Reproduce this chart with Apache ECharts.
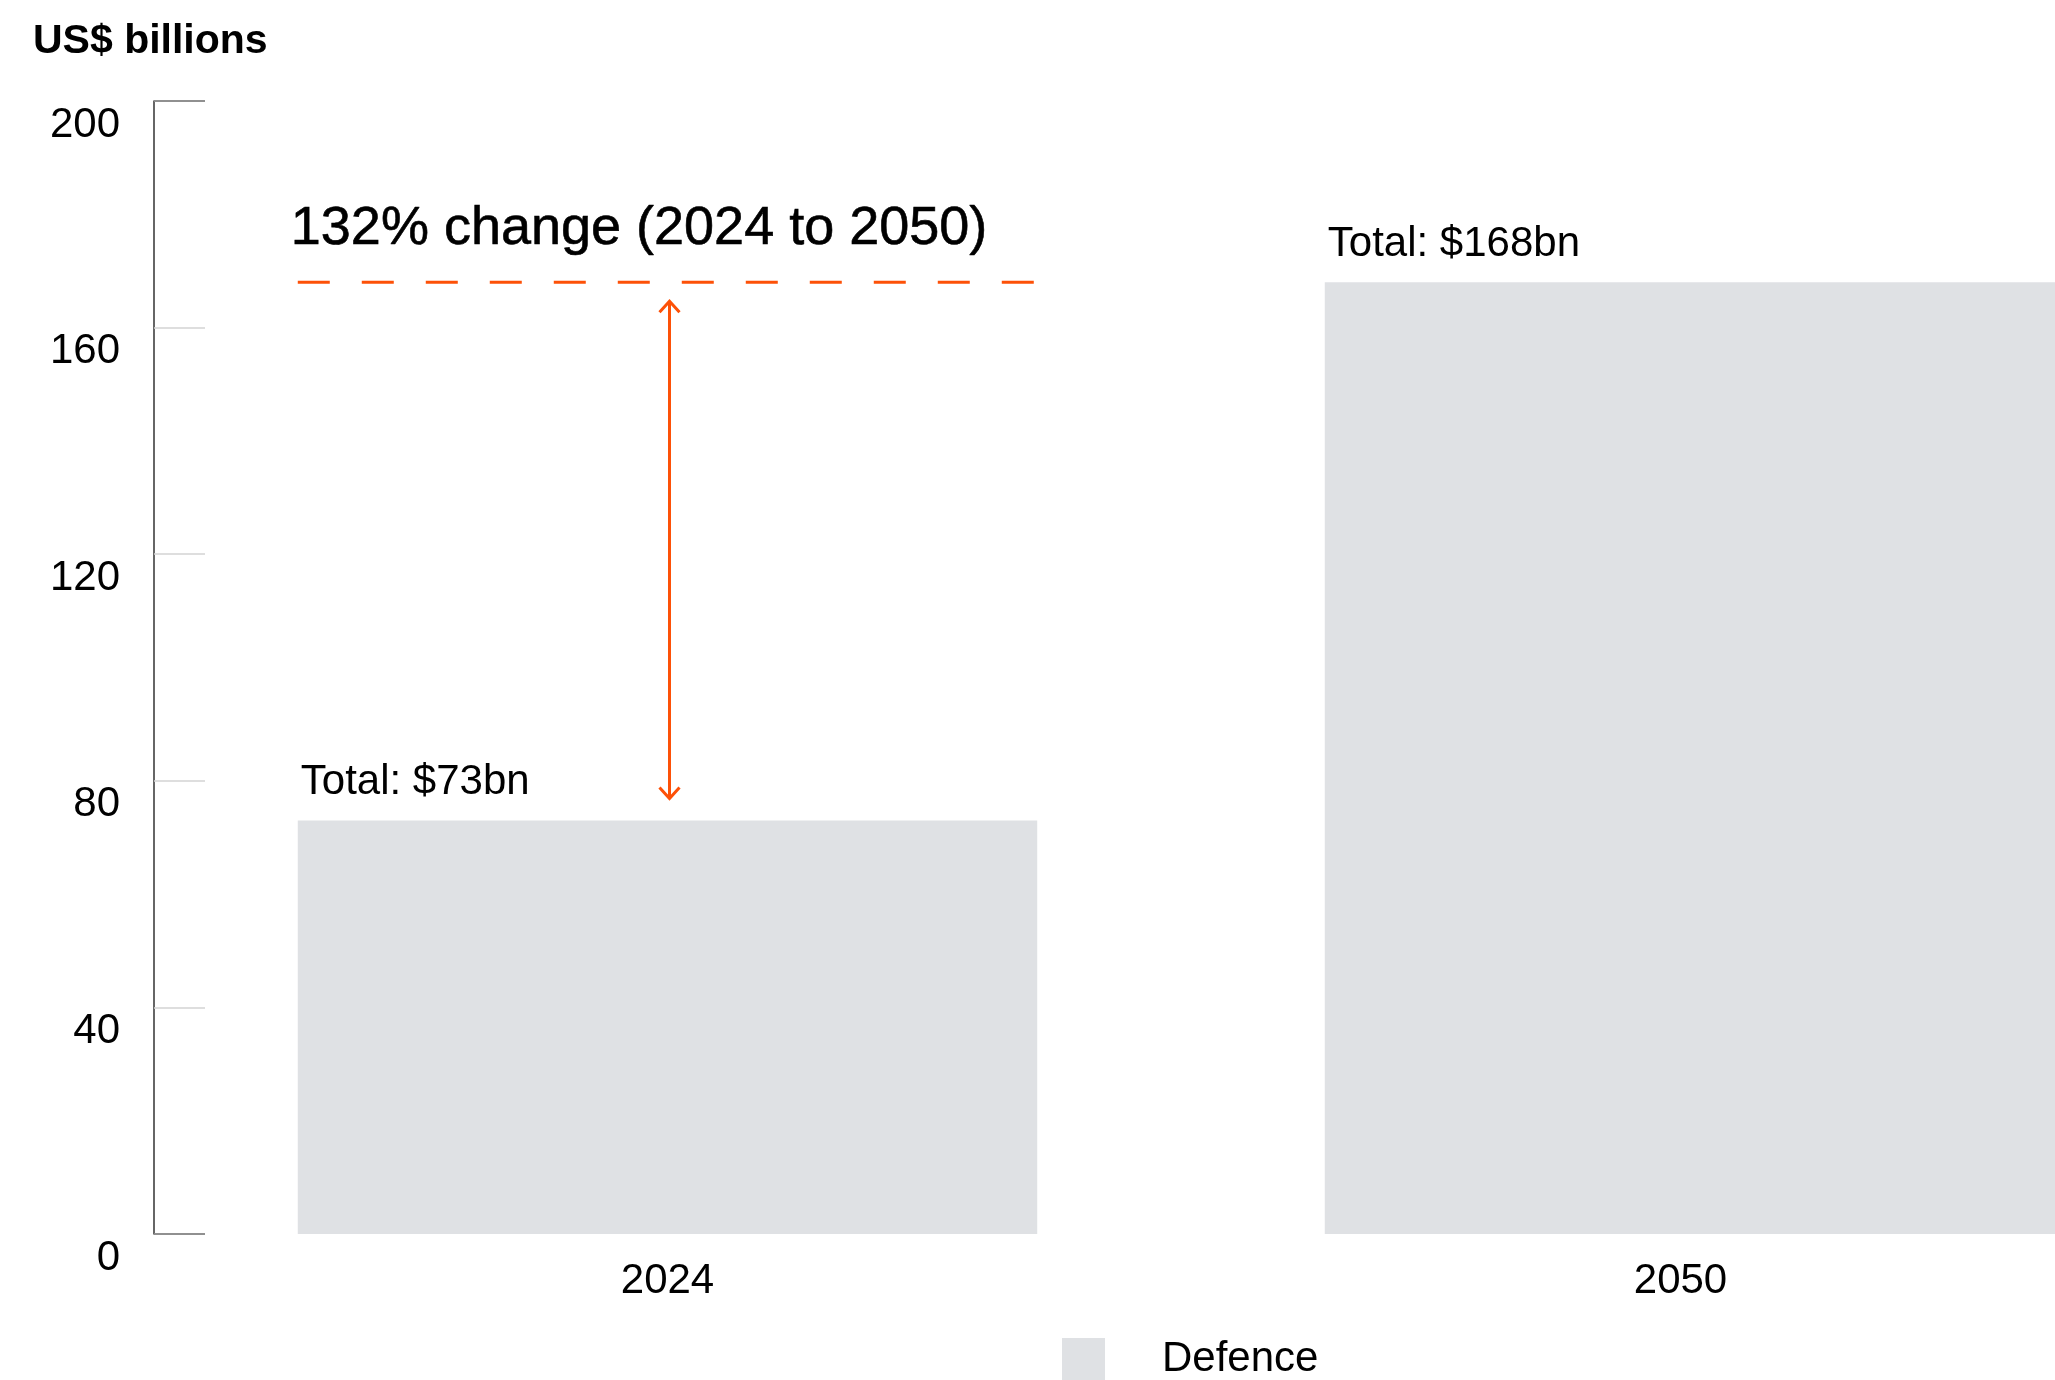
<!DOCTYPE html>
<html>
<head>
<meta charset="utf-8">
<script src="https://cdn.jsdelivr.net/npm/echarts@6/dist/echarts.min.js"></script>
<style>
  html, body { margin: 0; padding: 0; background: #fff; }
  #chart { width: 2055px; height: 1380px; }
</style>
</head>
<body>
<div id="chart"></div>
<script>
// Defence spending, US$ billions
const categories = ['2024', '2050'];
const defence = [73, 168];
const yTicks = [0, 40, 80, 120, 160, 200];
const changeLabel = '132% change (2024 to 2050)';
const unitLabel = 'US$ billions';

const FONT = '"Liberation Sans", Arial, Helvetica, sans-serif';
const ORANGE = '#FD5108';
const BAR = '#DFE1E4';
const BAR_RATIO = 0.72;

const chart = echarts.init(document.getElementById('chart'), null, { renderer: 'canvas' });

// Dashed target line plus double-headed arrow between the two totals,
// drawn over the first category band.
function renderChange(params, api) {
  const from = api.value(1);
  const to = api.value(2);
  const top = api.coord([api.value(0), to]);
  const low = api.coord([api.value(0), from]);
  const band = api.size([1, 0])[0];
  const half = band * BAR_RATIO / 2;
  const cx = top[0] + 2;
  const yTop = top[1];
  const yLow = low[1];
  const a1 = yTop + 19;
  const a2 = yLow - 22;
  const lineStyle = { stroke: ORANGE, lineWidth: 3, fill: null };
  return {
    type: 'group',
    children: [
      {
        type: 'line',
        shape: { x1: top[0] - half, y1: yTop, x2: top[0] + half, y2: yTop },
        style: { stroke: ORANGE, lineWidth: 3, lineDash: [32, 32] }
      },
      {
        type: 'line',
        shape: { x1: cx, y1: a1, x2: cx, y2: a2 },
        style: lineStyle
      },
      {
        type: 'polyline',
        shape: { points: [[cx - 10, a1 + 11], [cx, a1], [cx + 10, a1 + 11]] },
        style: lineStyle
      },
      {
        type: 'polyline',
        shape: { points: [[cx - 10, a2 - 11], [cx, a2], [cx + 10, a2 - 11]] },
        style: lineStyle
      },
      {
        type: 'text',
        style: {
          text: changeLabel,
          x: top[0] - half - 7,
          y: yTop - 53,
          fill: '#000',
          font: '500 54px ' + FONT,
          align: 'left',
          verticalAlign: 'middle',
          stroke: '#000',
          lineWidth: 0.6
        }
      }
    ]
  };
}

const option = {
  backgroundColor: '#fff',
  animation: false,
  textStyle: { fontFamily: FONT },
  graphic: [
    {
      type: 'text',
      left: 33,
      top: 21,
      style: {
        text: unitLabel,
        fill: '#000',
        font: 'bold 41px ' + FONT
      }
    }
  ],
  legend: {
    data: ['Defence'],
    left: 1062,
    top: 1338,
    padding: 0,
    icon: 'rect',
    itemWidth: 43,
    itemHeight: 43,
    textStyle: {
      fontSize: 42,
      color: '#000',
      fontFamily: FONT,
      padding: [0, 0, 0, 52]
    }
  },
  grid: {
    left: 154,
    top: 101,
    bottom: 146,
    width: 2054,
    outerBoundsMode: 'none',
    containLabel: false
  },
  xAxis: {
    type: 'category',
    data: categories,
    axisLine: { show: false },
    axisTick: { show: false },
    axisLabel: {
      fontSize: 42,
      color: '#000',
      fontFamily: FONT,
      margin: 26,
      formatter: function (v) {
        return v === categories[1] ? '{s|' + v + '}' : v;
      },
      rich: {
        s: { fontSize: 42, color: '#000', fontFamily: FONT, padding: [0, 28, 0, 0] }
      }
    }
  },
  yAxis: [
    {
      type: 'value',
      position: 'left',
      min: yTicks[0],
      max: yTicks[yTicks.length - 1],
      interval: yTicks[1] - yTicks[0],
      axisLine: { show: true, lineStyle: { color: '#333', width: 1.5 } },
      axisTick: { show: true, inside: true, length: 51, lineStyle: { color: '#d4d4d4', width: 1.5 } },
      splitLine: { show: false },
      axisLabel: {
        fontSize: 42,
        color: '#000',
        fontFamily: FONT,
        margin: 34,
        verticalAlign: 'top',
        lineHeight: 48
      }
    },
    {
      type: 'value',
      position: 'left',
      offset: 0,
      min: yTicks[0],
      max: yTicks[yTicks.length - 1],
      interval: yTicks[yTicks.length - 1] - yTicks[0],
      axisLine: { show: false },
      axisTick: { show: true, inside: true, length: 51, lineStyle: { color: '#777', width: 1.5 } },
      splitLine: { show: false },
      axisLabel: { show: false }
    }
  ],
  series: [
    {
      name: 'Defence',
      type: 'bar',
      data: defence,
      barWidth: (BAR_RATIO * 100) + '%',
      itemStyle: { color: BAR },
      label: {
        show: true,
        position: [3, -17],
        align: 'left',
        verticalAlign: 'bottom',
        fontSize: 42,
        color: '#000',
        fontFamily: FONT,
        formatter: function (p) { return 'Total: $' + p.value + 'bn'; }
      },
      z: 2
    },
    {
      name: 'change',
      type: 'custom',
      renderItem: renderChange,
      data: [[0, defence[0], defence[1]]],
      encode: { x: 0, y: 2 },
      silent: true,
      z: 5
    }
  ]
};

chart.setOption(option);
</script>
</body>
</html>
